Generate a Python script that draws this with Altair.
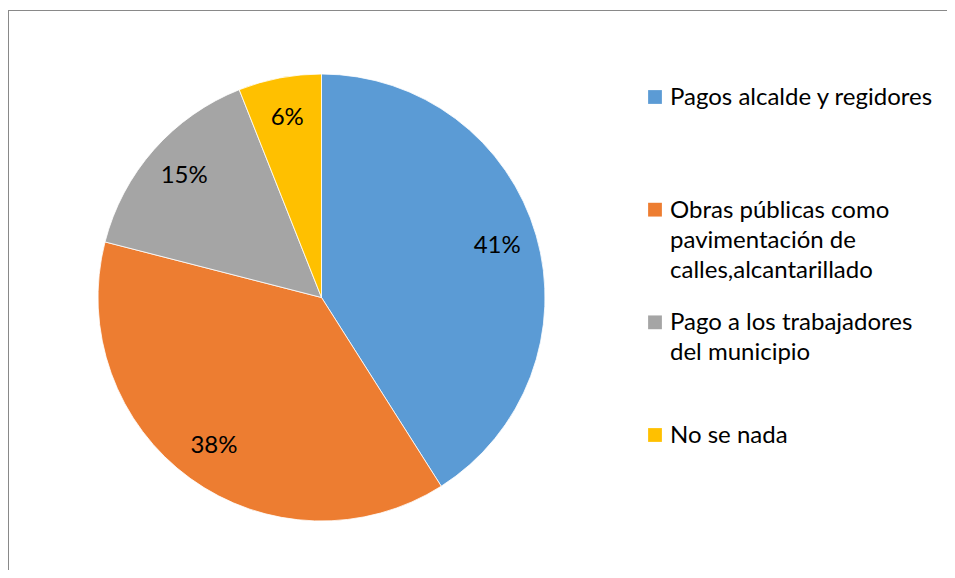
import altair as alt
import pandas as pd

categories = [
    "Pagos alcalde y regidores",
    "Obras públicas como\npavimentación de\ncalles,alcantarillado",
    "\u00a0Pago a los trabajadores\ndel municipio",
    "No se nada",
]
values = [41, 38, 15, 6]
pct_labels = ["41%", "38%", "15%", "6%"]
colors = ["#5B9BD5", "#ED7D31", "#A5A5A5", "#FFC000"]

df = pd.DataFrame({
    "cat": categories,
    "value": values,
    "label": pct_labels,
    "idx": list(range(len(categories))),
})

FONT = "Lato"
FS = 24
CX, CY, R = 313.5, 289.5, 223.5

color = alt.Color("cat:N", scale=alt.Scale(domain=categories, range=colors), legend=None)
theta = alt.Theta("value:Q", stack=True)
order = alt.Order("idx:Q")

base = alt.Chart(df)

pie = base.mark_arc(radius=R, stroke="white", strokeWidth=0.8).encode(
    theta=theta, order=order, color=color,
    x=alt.value(CX), y=alt.value(CY),
)

pie_text = base.mark_text(radius=183, fontSize=FS, font=FONT, color="black").encode(
    theta=theta, order=order, text="label:N",
    x=alt.value(CX), y=alt.value(CY),
)

ly = alt.Y("cat:N", sort=categories, axis=None,
           scale=alt.Scale(type="point", domain=categories, range=[89, 427], padding=0))

leg_sq = base.mark_square(size=190, opacity=1).encode(
    x=alt.value(647), y=ly, color=color,
)

leg_txt = base.mark_text(align="left", baseline="alphabetic", dy=8, lineBreak="\n",
                         lineHeight=30, fontSize=FS, font=FONT, color="black").encode(
    x=alt.value(662), y=ly, text="cat:N",
)

frame_left = base.mark_rule(color="#898989", strokeWidth=1).encode(
    x=alt.value(0.5), y=alt.value(2), y2=alt.value(562),
)
frame_top = base.mark_rule(color="#898989", strokeWidth=1).encode(
    x=alt.value(0), x2=alt.value(939), y=alt.value(2.5),
)

chart = alt.layer(frame_left, frame_top, pie, pie_text, leg_sq, leg_txt).properties(
    width=939, height=562, padding=0, autosize="none", background="white"
).configure_view(stroke=None)

chart.save("out.html", embed_options={"renderer": "svg", "actions": False})
